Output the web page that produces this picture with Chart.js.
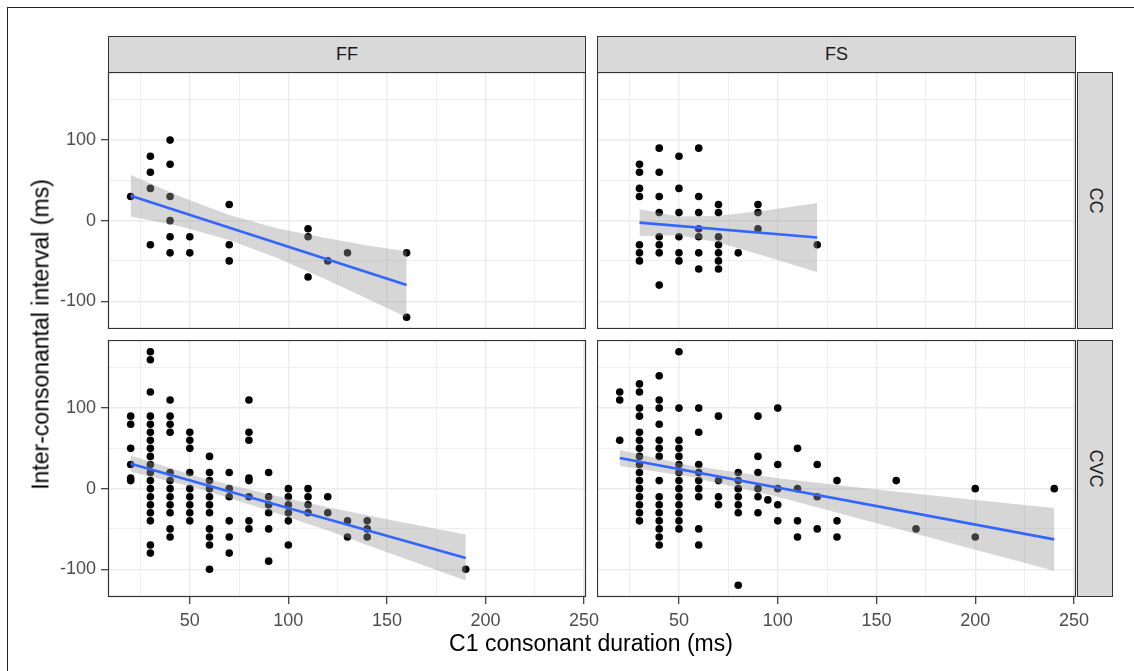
<!DOCTYPE html>
<html>
<head>
<meta charset="utf-8">
<script src="https://cdn.jsdelivr.net/npm/chart.js@4.4.1/dist/chart.umd.min.js"></script>
<style>
html,body{margin:0;padding:0;background:#fff;}
body{width:1134px;height:671px;position:relative;overflow:hidden;font-family:"Liberation Sans",Arial,sans-serif;}
.frame{position:absolute;left:7px;top:7px;width:1140px;height:680px;border-top:1.5px solid #222;border-left:1.5px solid #222;}
.strip{position:absolute;box-sizing:border-box;background:#D9D9D9;border:1px solid #333;color:#1A1A1A;font-size:18px;display:flex;align-items:center;justify-content:center;}
.vtext{transform:rotate(90deg);white-space:nowrap;}
.box{position:absolute;}
.title{position:absolute;font-size:23px;line-height:23px;color:#000;white-space:nowrap;text-align:center;}
</style>
</head>
<body>
<div class="frame"></div>

<div class="strip" style="left:108px;top:36px;width:478px;height:37px;">FF</div>
<div class="strip" style="left:597px;top:36px;width:479px;height:37px;">FS</div>
<div class="strip" style="left:1077px;top:72px;width:36px;height:257px;"><span class="vtext">CC</span></div>
<div class="strip" style="left:1077px;top:340px;width:36px;height:257px;"><span class="vtext">CVC</span></div>

<div class="box" style="left:40px;top:72px;width:546px;height:257px;"><canvas id="c_ffcc"></canvas></div>
<div class="box" style="left:597px;top:72px;width:479px;height:257px;"><canvas id="c_fscc"></canvas></div>
<div class="box" style="left:40px;top:340px;width:566px;height:302px;"><canvas id="c_ffcvc"></canvas></div>
<div class="box" style="left:597px;top:340px;width:499px;height:302px;"><canvas id="c_fscvc"></canvas></div>

<div class="title" style="left:291px;top:632px;width:600px;">C1 consonant duration (ms)</div>
<div class="title" style="left:-159px;top:323px;width:400px;transform:rotate(-90deg);">Inter-consonantal interval (ms)</div>

<script>
// ---- axis ranges & ticks ----
const xMin = 8.5, xMax = 251;
const yMin = -134.5, yMax = 184.5;
const xGridValues = [25, 50, 75, 100, 125, 150, 175, 200, 225, 250];
const xLabelValues = [50, 100, 150, 200, 250];
const yGridValues = [-100, -50, 0, 50, 100, 150];
const yLabelValues = [-100, 0, 100];

// ---- FF / CC ----
const ffccX = [20,30,30,30,30,40,40,40,40,40,40,50,50,70,70,70,110,110,110,120,130,160,160];
const ffccY = [30,80,60,40,-30,100,70,30,0,-20,-40,-20,-40,20,-30,-50,-10,-20,-70,-50,-40,-40,-120];
const ffccLineX = [20, 160];
const ffccLineY = [31, -80];
const ffccBandX = [20, 45, 70, 95, 120, 140, 160];
const ffccBandHi = [57, 30, 7, -10, -22, -31, -38];
const ffccBandLo = [5, -7, -24, -47, -74, -97, -120];

// ---- FS / CC ----
const fsccX = [30,30,30,30,30,30,30, 40,40,40,40,40,40,40,40, 50,50,50,50,50,50, 60,60,60,60,60,60,60, 70,70,70,70,70,70,70, 80, 90,90,90, 120];
const fsccY = [70,60,40,30,-30,-40,-50, 90,60,30,10,-20,-30,-40,-80, 80,40,10,-20,-40,-50, 90,30,10,-10,-20,-40,-60, 20,10,-20,-30,-40,-50,-60, -40, 20,10,-10, -30];
const fsccLineX = [30, 120];
const fsccLineY = [-2.5, -21];
const fsccBandX = [30, 50, 70, 95, 120];
const fsccBandHi = [14, 5, 6, 13, 22];
const fsccBandLo = [-19, -18, -27, -45, -64];

// ---- FF / CVC ----
const ffcvcX = [
  20,20,20,20,20,20,
  30,30,30,30,30,30,30,30,30,30,30,30,30,30,30,30,30,30,30,
  40,40,40,40,40,40,40,40,40,40,40,40,
  50,50,50,50,50,50,50,50,50,
  60,60,60,60,60,60,60,60,60,60,60,
  70,70,70,70,70,70,
  80,80,80,80,80,80,80,80,
  90,90,90,90,90,90,
  100,100,100,100,100,100,
  110,110,110,110,
  120,120,
  130,130,
  140,140,140,
  190];
const ffcvcY = [
  90,80,50,30,13,10,
  170,160,120,90,80,70,60,50,40,30,20,10,0,-10,-20,-30,-40,-70,-80,
  110,90,80,70,20,10,0,-10,-20,-30,-50,-60,
  70,60,50,20,0,-10,-20,-30,-40,
  40,20,10,0,-10,-20,-30,-50,-60,-70,-100,
  20,0,-10,-40,-60,-80,
  110,70,60,13,10,-10,-40,-50,
  20,-10,-20,-30,-50,-90,
  0,-10,-20,-30,-40,-70,
  0,-10,-20,-30,
  -10,-30,
  -40,-60,
  -40,-50,-60,
  -100];
const ffcvcLineX = [20, 190];
const ffcvcLineY = [31, -86];
const ffcvcBandX = [20, 55, 90, 120, 150, 190];
const ffcvcBandHi = [41, 14, -7, -23, -38, -57];
const ffcvcBandLo = [21, 0, -27, -52, -79, -114];

// ---- FS / CVC ----
const fscvcX = [
  20,20,20,
  30,30,30,30,30,30,30,30,30,30,30,30,30,30,30,30,
  40,40,40,40,40,40,40,40,40,40,40,40,40,40,40,
  50,50,50,50,50,50,50,50,50,50,50,50,50,50,
  60,60,60,60,60,60,60,60,60,
  70,70,70,70,
  80,80,80,80,80,80,80,
  90,90,90,90,90,90,
  95,
  100,100,100,100,100,
  110,110,110,110,
  120,120,120,
  130,130,130,
  160, 170, 200,200, 240];
const fscvcY = [
  120,110,60,
  130,120,100,90,70,60,50,40,30,20,10,0,-10,-20,-30,-40,
  140,110,100,80,60,50,40,10,-10,-20,-30,-40,-50,-60,-70,
  170,100,60,50,40,30,20,10,0,-10,-20,-30,-40,-50,
  100,70,30,20,10,0,-10,-50,-70,
  90,10,-10,-20,
  20,10,0,-10,-20,-30,-120,
  90,40,20,0,-10,-30,
  -14,
  100,30,0,-20,-40,
  50,0,-40,-60,
  30,-10,-50,
  10,-40,-60,
  10, -50, 0,-60, 0];
const fscvcLineX = [20, 240];
const fscvcLineY = [38, -63];
const fscvcBandX = [20, 55, 100, 150, 200, 240];
const fscvcBandHi = [48, 29, 13, -1, -14, -24];
const fscvcBandLo = [28, 15, -10, -43, -76, -102];

// ---- rendering ----
Chart.defaults.font.family = '"Liberation Sans", Arial, sans-serif';
const GRID = '#EBEBEB';
const zip = (xs, ys) => xs.map((x, i) => ({x: x, y: ys[i]}));

const panelBorder = {
  id: 'panelBorder',
  afterDraw(chart) {
    const a = chart.chartArea, ctx = chart.ctx;
    ctx.save();
    ctx.strokeStyle = '#333333';
    ctx.lineWidth = 1.2;
    ctx.strokeRect(a.left + 0.5, a.top + 0.5, a.right - a.left - 1, a.bottom - a.top - 1);
    ctx.restore();
  }
};

function zeroPad(ax) { ax.paddingLeft = 0; ax.paddingRight = 0; ax.paddingTop = 0; ax.paddingBottom = 0; }

function panel(id, xs, ys, lx, ly, bx, bhi, blo, showX, showY, padRight) {
  new Chart(document.getElementById(id), {
    type: 'scatter',
    data: { datasets: [
      { data: zip(lx, ly), showLine: true, borderColor: '#3366FF', borderWidth: 2.6, pointRadius: 0, order: 0 },
      { data: zip(bx, bhi), showLine: true, borderColor: 'rgba(0,0,0,0)', borderWidth: 0, pointRadius: 0,
        fill: '+1', backgroundColor: 'rgba(153,153,153,0.4)', order: 1 },
      { data: zip(bx, blo), showLine: true, borderColor: 'rgba(0,0,0,0)', borderWidth: 0, pointRadius: 0, fill: false, order: 2 },
      { data: zip(xs, ys), pointRadius: 3.8, pointBackgroundColor: '#000', pointBorderColor: '#000', pointBorderWidth: 0, order: 3 }
    ]},
    options: {
      responsive: true, maintainAspectRatio: false, animation: false, devicePixelRatio: 1,
      events: [],
      layout: { autoPadding: false, padding: { left: 0, top: 0, bottom: 0, right: padRight } },
      plugins: { legend: { display: false }, tooltip: { enabled: false } },
      scales: {
        x: {
          type: 'linear', position: 'bottom', min: xMin, max: xMax,
          afterBuildTicks: ax => { ax.ticks = xGridValues.map(v => ({value: v})); },
          afterFit: ax => { ax.height = showX ? 45 : 0; zeroPad(ax); },
          border: { display: false },
          grid: {
            color: GRID,
            lineWidth: c => (c.tick && xLabelValues.includes(c.tick.value)) ? 1.4 : 0.8,
            drawTicks: showX, tickLength: 7, tickWidth: 1.2,
            tickColor: c => (c.tick && xLabelValues.includes(c.tick.value)) ? '#333333' : 'rgba(0,0,0,0)'
          },
          ticks: {
            display: showX, autoSkip: false, maxRotation: 0, minRotation: 0, padding: 6,
            color: '#4D4D4D', font: { size: 18 },
            callback: v => xLabelValues.includes(v) ? String(v) : ''
          }
        },
        y: {
          type: 'linear', position: 'left', min: yMin, max: yMax,
          afterBuildTicks: ax => { ax.ticks = yGridValues.map(v => ({value: v})); },
          afterFit: ax => { ax.width = showY ? 68 : 0; zeroPad(ax); },
          border: { display: false },
          grid: {
            color: GRID,
            lineWidth: c => (c.tick && yLabelValues.includes(c.tick.value)) ? 1.4 : 0.8,
            drawTicks: showY, tickLength: 7, tickWidth: 1.2,
            tickColor: c => (c.tick && yLabelValues.includes(c.tick.value)) ? '#333333' : 'rgba(0,0,0,0)'
          },
          ticks: {
            display: showY, autoSkip: false, padding: 5,
            color: '#4D4D4D', font: { size: 18 },
            callback: v => yLabelValues.includes(v) ? String(v) : ''
          }
        }
      }
    },
    plugins: [panelBorder]
  });
}

panel('c_ffcc', ffccX, ffccY, ffccLineX, ffccLineY, ffccBandX, ffccBandHi, ffccBandLo, false, true, 0);
panel('c_fscc', fsccX, fsccY, fsccLineX, fsccLineY, fsccBandX, fsccBandHi, fsccBandLo, false, false, 0);
panel('c_ffcvc', ffcvcX, ffcvcY, ffcvcLineX, ffcvcLineY, ffcvcBandX, ffcvcBandHi, ffcvcBandLo, true, true, 20);
panel('c_fscvc', fscvcX, fscvcY, fscvcLineX, fscvcLineY, fscvcBandX, fscvcBandHi, fscvcBandLo, true, false, 20);
</script>
</body>
</html>
